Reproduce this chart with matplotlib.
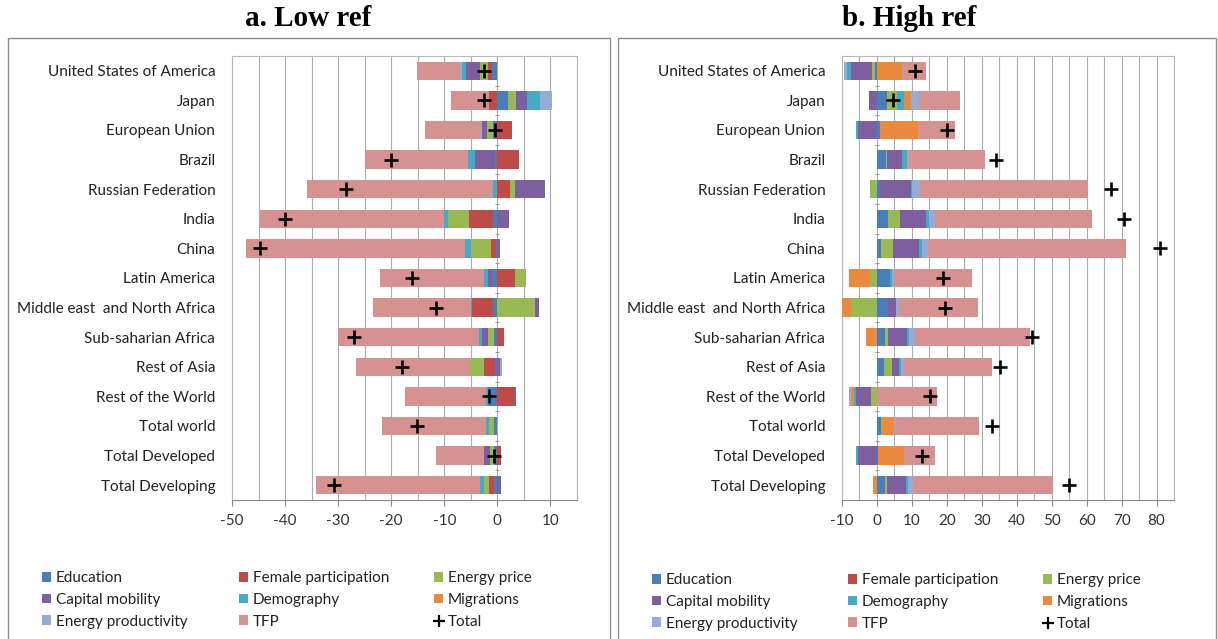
import numpy as np
import matplotlib
matplotlib.use("Agg")
import matplotlib.pyplot as plt
from matplotlib.patches import Rectangle, Patch
from matplotlib.lines import Line2D

plt.rcParams['font.family'] = ['Lato', 'DejaVu Sans']

regions = ["United States of America", "Japan", "European Union", "Brazil",
           "Russian Federation", "India", "China", "Latin America",
           "Middle east  and North Africa", "Sub-saharian Africa", "Rest of Asia",
           "Rest of the World", "Total world", "Total Developed", "Total Developing"]

series_names = ["Education", "Female participation", "Energy price", "Capital mobility",
                "Demography", "Migrations", "Energy productivity", "TFP"]
series_colors = ["#4A7EBB", "#BE4B48", "#98B954", "#7D5FA0",
                 "#46AAC5", "#EA8A3E", "#94ADD8", "#D59290"]

# a. Low ref
low_education = [-1.0, 1.95, -0.8, -0.5, 0, -0.9, -0.2, -0.95, -0.9, -0.6, -0.45, -1.8, -0.55, -0.55, -0.55]
low_female = [-0.75, -1.5, 2.7, 4.0, 2.45, -4.4, -1.0, 3.3, -3.8, 1.2, -2.1, 3.1, 0, 0.7, -0.95]
low_energy_price = [-1.6, 1.6, -1.1, 0, 0.95, -4.0, -3.7, 2.1, 7.1, -1.25, -2.6, 0, -1.1, -0.9, -1.05]
low_capital = [-2.5, 1.95, -0.95, -3.8, 5.5, 2.1, 0.55, -0.9, 0.8, -1.1, 0.55, 0.35, 0, -1.1, 0.7]
low_demography = [-0.75, 2.45, 0, -1.2, -0.75, -0.7, -1.2, -0.6, -0.25, -0.45, 0, -0.3, -0.55, 0, -0.8]
low_migrations = [0, 0, 0, 0, 0, 0, 0, 0, 0, 0, 0, 0, 0, 0, 0]
low_energy_prod = [-0.45, 2.3, -0.3, 0, 0, 0, 0, 0, 0, 0, 0.25, 0, 0, 0, 0]
low_tfp = [-8.1, -7.3, -10.4, -19.5, -35.2, -34.8, -41.3, -19.7, -18.4, -26.6, -21.4, -15.3, -19.5, -9.0, -30.8]
low_total = [-2.5, -2.5, -0.4, -20.1, -28.5, -40.0, -44.7, -16.1, -11.6, -27.0, -18.0, -1.5, -15.2, -0.7, -30.8]

# b. High ref
high_education = [-0.5, 2.9, 0.8, 2.5, 1.0, 3.1, 1.3, 3.7, 3.1, 2.3, 2.0, 0, 1.2, 0.4, 2.3]
high_female = [0, 0, 0, 0, 0, 0, 0, 0, 0, 0, 0, 0, 0, 0, 0]
high_energy_price = [-0.8, 2.9, 0, 0.5, -2.0, 3.6, 3.3, -2.0, -7.5, 0.9, 2.3, -1.8, 0.3, 0, 0.7]
high_capital = [-6.0, -2.4, -5.3, 4.3, 8.7, 7.4, 7.3, 0, 2.4, 5.5, 2.0, -4.1, 0, -5.3, 5.3]
high_demography = [-1.3, 1.8, -0.6, 1.2, 0.4, 0.9, 1.0, 0.5, 0, 0.4, 0.5, -0.7, 0, -0.7, 0.7]
high_migrations = [7.2, 2.1, 11.0, 0, 0, 0, 0, -5.9, -2.4, -3.0, 0, -0.9, 3.5, 7.2, -1.0]
high_energy_prod = [-0.7, 2.4, 0, 0.5, 2.1, 1.5, 1.8, 0.6, 0.7, 1.8, 0.9, -0.6, 0.3, 0, 1.2]
high_tfp = [6.7, 11.6, 10.5, 21.8, 48.1, 45.0, 56.7, 22.4, 22.6, 33.0, 25.3, 17.3, 23.9, 9.0, 40.1]
high_total = [10.8, 4.7, 20.1, 34.2, 67.0, 70.6, 81.0, 18.8, 19.4, 44.3, 35.3, 15.3, 33.0, 12.9, 55.0]

low_series = [low_education, low_female, low_energy_price, low_capital,
              low_demography, low_migrations, low_energy_prod, low_tfp]
high_series = [high_education, high_female, high_energy_price, high_capital,
               high_demography, high_migrations, high_energy_prod, high_tfp]

W, H = 1218, 639
fig = plt.figure(figsize=(W / 100, H / 100), dpi=100)


def fx(px):
    return px / W


def fy(py):
    return 1 - py / H


def draw_panel(ax, series, totals, xlim, xticks):
    y = np.arange(len(regions))
    pos = np.zeros(len(regions))
    neg = np.zeros(len(regions))
    for vals, col in zip(series, series_colors):
        v = np.array(vals, dtype=float)
        left = np.where(v >= 0, pos, neg)
        mask = v != 0
        ax.barh(y[mask], v[mask], left=left[mask], height=0.62, color=col,
                linewidth=0, zorder=3)
        pos = pos + np.where(v > 0, v, 0)
        neg = neg + np.where(v < 0, v, 0)
    ax.plot(totals, y, linestyle='none', marker='+', color='black',
            markersize=10.5, markeredgewidth=1.9, zorder=5)

    ax.set_xlim(*xlim)
    ax.set_ylim(len(regions) - 0.5, -0.5)
    ax.set_xticks(xticks)
    ax.set_xticks(np.arange(xlim[0], xlim[1] + 0.1, 5), minor=True)
    ax.set_xticklabels([str(t) for t in xticks], fontsize=11, color='#333333')
    ax.grid(axis='x', which='both', color='#ABABAB', linewidth=0.8, zorder=0)
    ax.set_axisbelow(True)
    ax.set_yticks(y)
    ax.set_yticklabels(regions, fontsize=11, color='#222222')
    ax.tick_params(axis='y', length=0, pad=12)
    ax.tick_params(axis='x', which='major', length=4, color='#888888', pad=6)
    ax.tick_params(axis='x', which='minor', length=0)
    for s in ax.spines.values():
        s.set_color('#B8B8B8')
        s.set_linewidth(0.8)
    ax.spines['bottom'].set_color('#888888')

    # category axis ticks on the zero line
    ax2 = ax.twinx()
    ax2.set_ylim(len(regions) - 0.5, -0.5)
    ax2.yaxis.tick_left()
    ax2.spines['left'].set_position(('data', 0))
    for s in ax2.spines.values():
        s.set_visible(False)
    ax2.set_yticks(np.arange(len(regions) - 1) + 0.5)
    ax2.set_yticklabels([])
    ax2.tick_params(axis='y', length=3, direction='inout', color='#999999', width=0.8)


ax_low = fig.add_axes([fx(232), fy(500), fx(577) - fx(232), fy(56) - fy(500)])
draw_panel(ax_low, low_series, low_total, (-50, 15), list(range(-50, 11, 10)))

ax_high = fig.add_axes([fx(842), fy(500), fx(1174) - fx(842), fy(56) - fy(500)])
draw_panel(ax_high, high_series, high_total, (-10, 85), list(range(-10, 81, 10)))

# outer chart frames
for x0, x1 in [(8, 610), (618, 1216)]:
    fig.add_artist(Rectangle((fx(x0), -0.05), fx(x1) - fx(x0), fy(38) + 0.05,
                             transform=fig.transFigure, fill=False,
                             edgecolor='#8C8C8C', linewidth=1.0))

fig.text(fx(308), fy(19), "a. Low ref", ha='center', va='center',
         fontsize=21, fontweight='bold', family='Liberation Serif')
fig.text(fx(909), fy(19), "b. High ref", ha='center', va='center',
         fontsize=21, fontweight='bold', family='Liberation Serif')

# legends, three columns per panel
handles = [Patch(facecolor=c, edgecolor='none') for c in series_colors]
handles.append(Line2D([], [], linestyle='none', marker='+', color='black',
                      markersize=9, markeredgewidth=1.6))
labels = series_names + ["Total"]
columns = [[0, 3, 6], [1, 4, 7], [2, 5, 8]]

for col_x, mid_y in [((42, 239, 434), 600), ((652, 848, 1043), 602)]:
    for cx, idx in zip(col_x, columns):
        fig.legend([handles[i] for i in idx], [labels[i] for i in idx],
                   loc='center left', bbox_to_anchor=(fx(cx), fy(mid_y)),
                   frameon=False, fontsize=11, borderpad=0, borderaxespad=0,
                   handlelength=0.6, handleheight=0.6, handletextpad=0.3,
                   labelspacing=0.5, labelcolor='#222222')

fig.savefig("out.png", dpi=100)
